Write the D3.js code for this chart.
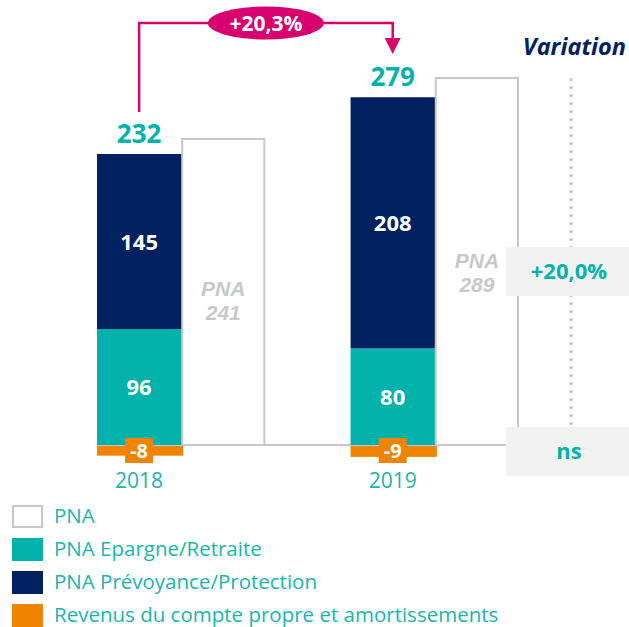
<!DOCTYPE html>
<html>
<head>
<meta charset="utf-8">
<script src="https://cdn.jsdelivr.net/npm/d3@7"></script>
<style>
  body { margin: 0; background: #fff; }
  svg { display: block; font-family: "Open Sans", Lato, sans-serif; }
</style>
</head>
<body>
<div id="chart"></div>
<script>
// PNA CHART

// Data

var years = ["2018", "2019"];
var epargne = [96, 80];            // PNA Epargne/Retraite
var prevoyance = [145, 208];       // PNA Prévoyance/Protection
var revenus = [-8, -9];            // Revenus du compte propre et amortissements
var pna = [241, 289];              // PNA
var totals = [232, 279];
var growthLabel = "+20,3%";
var variationLabels = ["+20,0%", "ns"];
var legendLabels = ["PNA", "PNA Epargne/Retraite", "PNA Prévoyance/Protection", "Revenus du compte propre et amortissements"];

var teal = "#00b2a9";
var navy = "#002060";
var orange = "#f08300";
var magenta = "#d6006e";
var grey = "#c8c8c8";
var textTeal = "#1bb5aa";

var width = 629;
var height = 627;
var baseline = 445;

var svg = d3.select("#chart").append("svg")
    .attr("width", width)
    .attr("height", height);

// Scales

var xScale = d3.scaleBand()
    .domain(years)
    .range([97, 519])
    .paddingInner(0.336);

var xSub = d3.scaleBand()
    .domain(["stack", "pna"])
    .range([0, xScale.bandwidth()]);

var yStack = d3.scaleLinear()          // stacked bars
    .domain([0, 241])
    .range([baseline, 154]);

var yPna = d3.scaleLinear()            // PNA outline bars
    .domain([0, 289])
    .range([baseline, 78]);

var rows = years.map(function(y, i) {
    return {year: y, ep: epargne[i], pr: prevoyance[i], rev: revenus[i], pna: pna[i], total: totals[i]};
});

function cx(d) { return xScale(d.year) + xSub("stack") + xSub.bandwidth() / 2; }
function px(d) { return xScale(d.year) + xSub("pna"); }

// PNA outline bars

svg.selectAll(".pna")
    .data(rows)
    .enter().append("rect")
    .attr("x", function(d) { return px(d) + 1; })
    .attr("y", function(d) { return yPna(d.pna); })
    .attr("width", xSub.bandwidth() - 2)
    .attr("height", function(d) { return baseline - yPna(d.pna); })
    .attr("fill", "#fff")
    .attr("stroke", grey)
    .attr("stroke-width", 2);

// Baseline

svg.append("line")
    .attr("x1", 97).attr("x2", 506)
    .attr("y1", baseline).attr("y2", baseline)
    .attr("stroke", grey).attr("stroke-width", 2);

// Stacked bars

svg.selectAll(".ep")
    .data(rows)
    .enter().append("rect")
    .attr("x", function(d) { return xScale(d.year); })
    .attr("y", function(d) { return yStack(d.ep); })
    .attr("width", xSub.bandwidth())
    .attr("height", function(d) { return baseline - yStack(d.ep); })
    .attr("fill", teal);

svg.selectAll(".pr")
    .data(rows)
    .enter().append("rect")
    .attr("x", function(d) { return xScale(d.year); })
    .attr("y", function(d) { return yStack(d.ep + d.pr); })
    .attr("width", xSub.bandwidth())
    .attr("height", function(d) { return yStack(d.ep) - yStack(d.ep + d.pr); })
    .attr("fill", navy);

svg.selectAll(".rev")
    .data(rows)
    .enter().append("rect")
    .attr("x", function(d) { return xScale(d.year); })
    .attr("y", baseline + 1)
    .attr("width", xSub.bandwidth() + 2)
    .attr("height", function(d) { return yStack(d.rev) - baseline; })
    .attr("fill", orange);

// Orange label boxes

svg.selectAll(".revbox")
    .data(rows)
    .enter().append("rect")
    .attr("x", function(d) { return cx(d) - 14; })
    .attr("y", baseline - 7)
    .attr("width", 28)
    .attr("height", 25)
    .attr("fill", orange);

svg.selectAll(".revlabel")
    .data(rows)
    .enter().append("text")
    .attr("x", cx)
    .attr("y", baseline + 13)
    .attr("text-anchor", "middle")
    .attr("fill", "#fff")
    .attr("font-weight", "bold")
    .attr("font-size", 20)
    .text(function(d) { return d.rev; });

// Segment labels

svg.selectAll(".eplabel")
    .data(rows)
    .enter().append("text")
    .attr("x", cx)
    .attr("y", function(d) { return (yStack(0) + yStack(d.ep)) / 2 + 8; })
    .attr("text-anchor", "middle")
    .attr("fill", "#fff")
    .attr("font-weight", "bold")
    .attr("font-size", 22)
    .text(function(d) { return d.ep; });

svg.selectAll(".prlabel")
    .data(rows)
    .enter().append("text")
    .attr("x", cx)
    .attr("y", function(d) { return (yStack(d.ep) + yStack(d.ep + d.pr)) / 2 + 8; })
    .attr("text-anchor", "middle")
    .attr("fill", "#fff")
    .attr("font-weight", "bold")
    .attr("font-size", 22)
    .text(function(d) { return d.pr; });

// Totals

svg.selectAll(".total")
    .data(rows)
    .enter().append("text")
    .attr("x", cx)
    .attr("y", function(d) { return yStack(d.ep + d.pr) - 11; })
    .attr("text-anchor", "middle")
    .attr("fill", teal)
    .attr("font-weight", "bold")
    .attr("font-size", 26)
    .text(function(d) { return d.total; });

// PNA labels in the outline bars

var pnaText = svg.selectAll(".pnalabel")
    .data(rows)
    .enter().append("text")
    .attr("text-anchor", "middle")
    .attr("fill", grey)
    .attr("font-family", "'Liberation Sans', Arial, sans-serif")
    .attr("font-weight", "bold")
    .attr("font-style", "italic")
    .attr("font-size", 21);

pnaText.append("tspan")
    .attr("x", function(d) { return px(d) + xSub.bandwidth() / 2; })
    .attr("y", function(d) { return d.year === "2018" ? 296 : 268; })
    .text("PNA");

pnaText.append("tspan")
    .attr("x", function(d) { return px(d) + xSub.bandwidth() / 2; })
    .attr("dy", 24)
    .text(function(d) { return d.pna; });

// Year labels

svg.selectAll(".year")
    .data(rows)
    .enter().append("text")
    .attr("x", cx)
    .attr("y", 488)
    .attr("text-anchor", "middle")
    .attr("fill", textTeal)
    .attr("font-size", 21)
    .text(function(d) { return d.year; });

// Growth arrow

var ax1 = cx(rows[0]);
var ax2 = cx(rows[1]);
var arrowTop = 23;

svg.append("path")
    .attr("d", "M" + ax1 + "," + (yStack(241) - 42) + "V" + arrowTop + "H" + ax2 + "V" + 40)
    .attr("fill", "none")
    .attr("stroke", magenta)
    .attr("stroke-width", 2.5);

svg.append("path")
    .attr("d", "M" + (ax2 - 8) + ",38L" + (ax2 + 8) + ",38L" + ax2 + ",54Z")
    .attr("fill", magenta);

svg.append("ellipse")
    .attr("cx", (ax1 + ax2) / 2)
    .attr("cy", arrowTop)
    .attr("rx", 58)
    .attr("ry", 16.5)
    .attr("fill", magenta);

svg.append("text")
    .attr("x", (ax1 + ax2) / 2)
    .attr("y", arrowTop + 8)
    .attr("text-anchor", "middle")
    .attr("fill", "#fff")
    .attr("font-weight", "bold")
    .attr("font-size", 21)
    .text(growthLabel);

// Variation column

svg.append("text")
    .attr("x", 626)
    .attr("y", 55)
    .attr("text-anchor", "end")
    .attr("fill", navy)
    .attr("font-weight", "bold")
    .attr("font-style", "italic")
    .attr("font-size", 23.5)
    .text("Variation");

svg.append("line")
    .attr("x1", 571).attr("x2", 571)
    .attr("y1", 78).attr("y2", 426)
    .attr("stroke", grey)
    .attr("stroke-width", 3)
    .attr("stroke-dasharray", "3,5");

var varY = [247, 427];

svg.selectAll(".varbox")
    .data(variationLabels)
    .enter().append("rect")
    .attr("x", 506)
    .attr("y", function(d, i) { return varY[i]; })
    .attr("width", 123)
    .attr("height", 49)
    .attr("fill", "#f2f2f2");

svg.selectAll(".vartext")
    .data(variationLabels)
    .enter().append("text")
    .attr("x", 569)
    .attr("y", function(d, i) { return varY[i] + 32; })
    .attr("text-anchor", "middle")
    .attr("fill", teal)
    .attr("font-weight", "bold")
    .attr("font-size", 22)
    .text(function(d) { return d; });

// Legend

var legendFill = ["#fff", teal, navy, orange];

var legend = svg.selectAll(".legend")
    .data(legendLabels)
    .enter().append("g")
    .attr("transform", function(d, i) { return "translate(12," + (505 + i * 33) + ")"; });

legend.append("rect")
    .attr("x", function(d, i) { return i === 0 ? 1 : 0; })
    .attr("y", function(d, i) { return i === 0 ? 1 : 0; })
    .attr("width", function(d, i) { return i === 0 ? 29 : 31; })
    .attr("height", function(d, i) { return i === 0 ? 21 : 23; })
    .attr("fill", function(d, i) { return legendFill[i]; })
    .attr("stroke", function(d, i) { return i === 0 ? grey : "none"; })
    .attr("stroke-width", 2);

legend.append("text")
    .attr("x", 42)
    .attr("y", 18)
    .attr("fill", textTeal)
    .attr("font-size", 20.5)
    .text(function(d) { return d; });
</script>
</body>
</html>
